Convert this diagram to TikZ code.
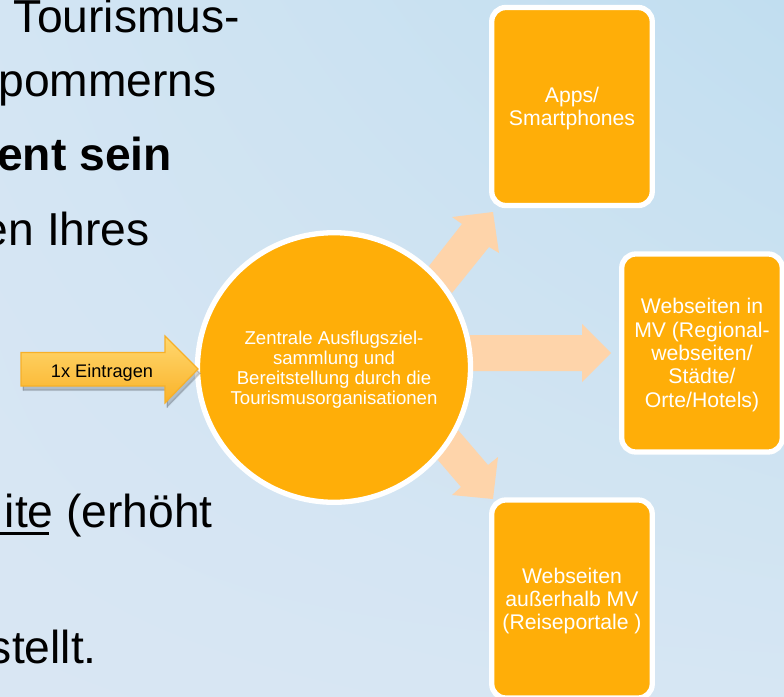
\documentclass[tikz,border=0pt]{standalone}
\usepackage{fontspec}
\setmainfont{Liberation Sans}
\usetikzlibrary{shadings,shapes.geometric}
\definecolor{bgll}{RGB}{217,230,243}
\definecolor{bgul}{RGB}{211,229,243}
\definecolor{bgur}{RGB}{193,222,240}
\definecolor{bglr}{RGB}{214,230,243}
\definecolor{orangefill}{RGB}{255,174,8}
\definecolor{peach}{RGB}{254,212,170}
\definecolor{arrowedge}{RGB}{247,176,40}
\definecolor{arrowtop}{RGB}{255,216,112}
\definecolor{arrowbot}{RGB}{250,178,40}
\newcommand\droplinebox{\rule{0pt}{19.5pt}}
\newcommand\droplinehub{\rule{0pt}{17.6pt}}
\tikzset{
  x=1pt,y=-1pt,
  bodytext/.style={anchor=base east,inner sep=0pt,font=\fontsize{46.2}{50}\selectfont,text=black},
  orangebox/.style={draw=white,line width=5.3pt,fill=orangefill,rounded corners=14pt,text=white,align=center,inner sep=0pt,minimum width=160.5pt,minimum height=198pt,font=\fontsize{21.2}{23.3}\selectfont},
  hub/.style={ellipse,draw=white,line width=5.3pt,fill=orangefill,minimum width=273pt,minimum height=269.6pt,inner xsep=-12pt,inner ysep=0pt,outer sep=0pt,text=white,align=center,font=\fontsize{18.6}{20}\selectfont},
  flowarrow/.style={fill=peach},
}
\begin{document}
\begin{tikzpicture}
\useasboundingbox (0,0) rectangle (784,696);
\shade[shading=bilinear interpolation,lower left=bgll,upper left=bgul,upper right=bgur,lower right=bglr] (0,0) rectangle (784,696);
% body text
\begin{scope}
\clip (0,0) rectangle (784,696);
\node[bodytext] (t1) at (240,32) {Tourismus-};
\node[bodytext] (t2) at (217,96) {pommerns};
\node[bodytext,font=\fontsize{46.2}{50}\selectfont\bfseries] (t3) at (172,170) {ent sein};
\node[bodytext] (t4) at (150,245) {en Ihres};
\node[bodytext] (t5) at (213,527) {ite (erhöht};
\node[bodytext] (t6) at (97,663) {stellt.};
\fill[black] (0,532) rectangle (48.5,534.5);
\end{scope}
% flow arrows
\fill[flowarrow] (429,266) -- (462,224) -- (452,217) -- (493,212) -- (499,253) -- (489,247) -- (452,293) -- cycle;
\fill[flowarrow] (470,335) -- (582,335) -- (582,324) -- (611,353) -- (582,382) -- (582,371) -- (470,371) -- cycle;
\fill[flowarrow] (458,430) -- (488,465) -- (498,457) -- (493,499) -- (452,495) -- (461,487) -- (431,452) -- cycle;
% hub
\node[hub] (hub) at (334,367.5) {\droplinehub Zentrale Ausflugsziel-\\sammlung und\\Bereitstellung durch die\\Tourismusorganisationen};
% boxes
\node[orangebox] (apps) at (572,106.5) {\droplinebox Apps/\\Smartphones};
\node[orangebox] (mv) at (702,353) {\droplinebox Webseiten in\\MV (Regional-\\webseiten/\\Städte/\\Orte/Hotels)};
\node[orangebox] (out) at (572,599) {\droplinebox Webseiten\\außerhalb MV\\(Reiseportale )};
% input arrow
\foreach \blur/\op in {2.4/.05,1.2/.06,0/.07}{
  \fill[black,opacity=\op,line join=round,draw=black,line width=\blur pt] (23,356) -- (167,356) -- (167,340) -- (200,373) -- (167,407) -- (167,390) -- (23,390) -- cycle;
}
\draw[draw=arrowedge,line width=1.2pt,top color=arrowtop,bottom color=arrowbot]
  (21,352.5) -- (165,352.5) -- (165,336) -- (198,369) -- (165,403) -- (165,386) -- (21,386) -- cycle;
\node[inner sep=0pt,font=\fontsize{18.2}{20}\selectfont,text=black] (ein) at (102,371) {\rule{0pt}{17pt}1x Eintragen};
\end{tikzpicture}
\end{document}
